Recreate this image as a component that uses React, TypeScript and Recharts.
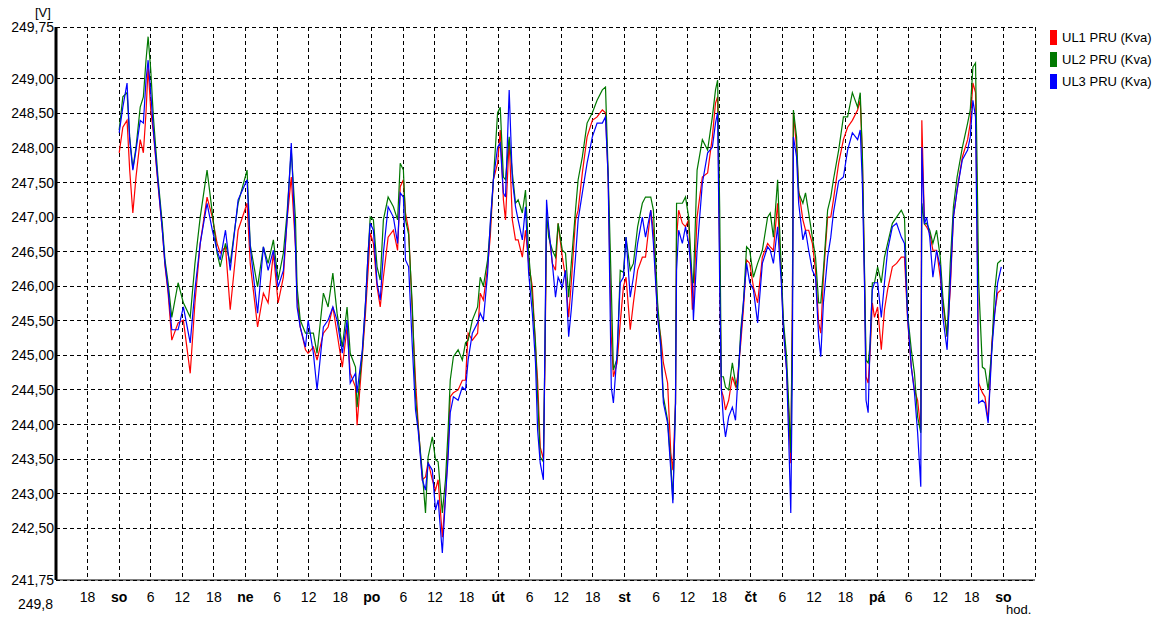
import { LineChart, Line, XAxis, YAxis, CartesianGrid } from "recharts";

// hours from Saturday 00:00
const hours = [
  0, 0.7, 1.5, 2, 2.6, 3.2, 4, 4.6, 5.1, 5.5, 6, 6.5, 7.4, 8.2, 8.7, 9.3, 10, 11.2, 12.2, 13.5,
  14.4, 15.4, 16.7, 17.7, 18.6, 19.2, 20.2, 21.1, 22.6, 24.3, 24.9, 26.3, 27.4, 28.3, 29.3, 30.2, 31.2, 31.9, 32.7, 33.5,
  33.8, 34.4, 35.4, 35.9, 36.9, 37.6, 38.8, 39.7, 40.6, 41.4, 42.4, 43.3, 43.9, 44.9, 45.2, 46.2, 46.8, 47.3, 47.7, 48.3,
  49, 49.6, 50.2, 51.1, 52.1, 52.9, 53.4, 54, 54.4, 55, 55.7, 56.3, 56.8, 57.6, 58.2, 58.7, 59.5, 60.1, 60.6, 61.4,
  62, 62.5, 62.9, 63.5, 64.4, 65.2, 65.8, 66.3, 67.1, 68.1, 68.6, 69.2, 70, 70.5, 71.1, 71.9, 72.4, 73, 73.4, 74.1,
  74.7, 75.3, 75.8, 76.6, 77.2, 77.8, 78.5, 79.1, 79.5, 80, 80.6, 80.9, 81.2, 81.6, 82.3, 82.9, 83.4, 84.2, 84.8, 85.4,
  85.9, 86.7, 87.2, 88, 88.9, 89.9, 90.8, 91.8, 92.4, 92.9, 93.5, 93.9, 94.6, 95.2, 95.8, 96.3, 97.1, 97.7, 98.5, 99.4,
  100, 101, 101.5, 102.3, 102.9, 103.4, 104.2, 104.8, 105.2, 105.7, 105.9, 106.3, 107, 107.6, 108.2, 108.9, 109.1, 109.8, 110.8, 111.8,
  112.7, 113.3, 113.7, 114.1, 114.4, 114.8, 115.2, 115.8, 116.5, 117.1, 117.5, 118.1, 118.6, 119.2, 119.8, 120.5, 121.3, 122.2, 123.2, 123.7,
  124.3, 125.1, 125.8, 126.2, 126.8, 127.2, 127.6, 127.9, 128.1, 128.7, 129.1, 129.9, 130.4, 131, 131.7, 132.3, 132.9, 133.3, 133.8, 134.6,
  135.2, 135.7, 136.7, 137.6, 138.4, 139.3, 140.3, 140.8, 141.2, 141.6, 141.9, 142.3, 142.7, 143.1, 143.5, 144.1, 144.8, 145.4, 146, 146.9,
  147.7, 148.6, 149.2, 149.8, 150.5, 151.1, 151.7, 152.3, 152.5, 153, 153.4, 154, 154.6, 155.3, 156, 156.5, 157.3, 157.9, 158.5, 159.2,
  160.2, 161.2, 161.7, 162.2, 162.7, 163, 163.3, 164, 164.5, 165.1, 165.8, 166.3, 166.9, 167.6,
];

const ul1 = [
  247.93, 248.3, 248.4, 247.68, 247.06, 247.58, 248.12, 247.93, 248.51, 249.17, 248.55, 248.22, 247.45, 246.81, 246.3, 245.9, 245.22, 245.47, 245.51, 244.74,
  245.76, 246.62, 247.29, 247.0, 246.62, 246.48, 246.57, 245.66, 246.81, 247.2, 246.33, 245.41, 245.9, 245.76, 246.48, 245.76, 246.13, 246.96, 247.58, 246.57,
  245.84, 245.41, 245.08, 245.03, 245.12, 244.93, 245.32, 245.41, 245.7, 245.32, 244.83, 245.41, 244.74, 244.54, 243.99, 244.98, 245.61, 246.23, 246.77, 246.62,
  245.99, 245.7, 246.13, 246.71, 246.81, 246.52, 247.44, 247.54, 247.06, 246.81, 245.61, 244.64, 244.02, 243.2, 243.24, 243.46, 243.2, 243.05, 243.2, 242.37,
  242.95, 243.67, 244.4, 244.46, 244.5, 244.64, 244.64, 245.32, 245.22, 245.32, 245.9, 245.8, 246.28, 246.71, 247.54, 247.78, 248.26, 247.25, 246.96, 248.12,
  246.96, 246.67, 246.67, 246.42, 246.81, 246.33, 245.99, 245.12, 244.64, 243.67, 243.5, 244.9, 246.96, 246.81, 246.33, 246.23, 246.91, 246.42, 246.13, 245.55,
  246.05, 246.96, 247.1, 247.64, 248.16, 248.4, 248.45, 248.55, 248.51, 247.58, 245.27, 244.69, 244.89, 245.47, 245.99, 246.13, 245.37, 245.76, 246.23, 246.42,
  246.42, 247.1, 246.81, 245.55, 245.27, 244.89, 244.6, 243.59, 243.34, 244.31, 246.7, 247.1, 246.91, 246.86, 246.96, 245.66, 245.76, 247.0, 247.58, 247.64,
  248.16, 248.65, 248.74, 246.4, 244.5, 244.4, 244.21, 244.35, 244.69, 244.55, 244.69, 245.18, 245.66, 246.38, 246.33, 245.99, 245.76, 246.42, 246.62, 246.57,
  246.52, 247.2, 246.13, 245.42, 244.79, 244.17, 243.44, 245.76, 248.51, 248.01, 247.39, 246.96, 246.81, 246.81, 246.62, 246.23, 245.47, 245.32, 246.13, 247.0,
  247.0, 247.25, 247.78, 248.12, 248.3, 248.4, 248.55, 248.69, 247.9, 246.15, 244.69, 244.6, 245.08, 245.76, 245.55, 245.7, 245.08, 245.66, 245.95, 246.28,
  246.33, 246.42, 246.42, 245.51, 244.83, 244.5, 244.35, 243.92, 248.4, 246.9, 246.86, 246.77, 246.52, 246.52, 246.13, 245.76, 245.27, 245.95, 247.0, 247.39,
  247.87, 248.12, 248.36, 248.94, 248.8, 247.0, 244.6, 244.46, 244.4, 244.06, 245.18, 245.6, 245.9, 245.95,
];

const ul2 = [
  248.26, 248.74, 248.8, 248.16, 247.7, 248.01, 248.59, 248.74, 249.27, 249.61, 249.13, 248.45, 247.55, 246.9, 246.38, 246.05, 245.55, 246.05, 245.76, 245.55,
  246.33, 247.0, 247.68, 247.06, 246.48, 246.28, 246.62, 246.33, 247.2, 247.68, 246.6, 245.99, 246.57, 246.33, 246.67, 246.09, 246.48, 247.06, 247.97, 246.96,
  245.99, 245.51, 245.32, 245.32, 245.32, 245.03, 245.9, 245.7, 246.19, 245.61, 245.12, 245.7, 245.03, 244.83, 244.25, 245.03, 245.76, 246.48, 247.0, 246.96,
  246.28, 246.09, 246.96, 247.29, 247.15, 246.96, 247.78, 247.68, 246.96, 246.75, 245.7, 244.4, 243.97, 243.3, 242.72, 243.53, 243.82, 243.49, 243.46, 242.72,
  243.2, 243.92, 244.64, 244.98, 245.08, 244.93, 245.18, 245.22, 245.51, 245.7, 246.13, 246.0, 246.38, 246.85, 247.54, 248.51, 248.59, 247.58, 247.54, 248.16,
  247.64, 247.2, 247.25, 247.06, 247.39, 246.48, 245.84, 245.18, 244.4, 243.53, 243.46, 245.1, 247.06, 246.71, 246.52, 246.42, 246.91, 246.52, 246.48, 245.84,
  246.33, 247.1, 247.54, 247.87, 248.36, 248.51, 248.69, 248.84, 248.88, 247.64, 245.99, 244.79, 244.95, 246.23, 246.2, 246.71, 246.23, 246.33, 246.86, 247.2,
  247.29, 247.29, 247.1, 245.76, 245.18, 244.4, 244.06, 243.44, 242.91, 244.31, 247.2, 247.2, 247.2, 247.29, 247.0, 246.05, 246.05, 247.68, 248.12, 247.97,
  248.45, 248.84, 248.98, 247.1, 244.69, 244.69, 244.54, 244.5, 244.89, 244.6, 244.5, 245.37, 245.76, 246.57, 246.52, 246.13, 246.33, 246.52, 247.0, 247.06,
  246.71, 247.54, 246.23, 245.51, 244.98, 244.31, 243.59, 245.5, 248.55, 248.16, 247.35, 247.2, 247.35, 247.06, 246.71, 246.42, 245.76, 245.76, 246.23, 247.1,
  247.29, 247.54, 247.97, 248.45, 248.45, 248.8, 248.59, 248.8, 247.9, 246.28, 244.93, 244.89, 245.18, 246.05, 246.05, 246.28, 246.05, 246.42, 246.62, 246.91,
  247.0, 247.1, 247.0, 245.6, 245.08, 244.74, 244.11, 243.88, 247.2, 246.9, 246.91, 246.81, 246.62, 246.81, 246.42, 245.84, 245.27, 246.33, 247.15, 247.58,
  248.01, 248.36, 248.55, 249.17, 249.23, 247.73, 246.05, 244.83, 244.8, 244.5, 245.08, 245.9, 246.33, 246.38,
];

const ul3 = [
  248.22, 248.59, 248.94, 248.12, 247.68, 247.97, 248.4, 248.36, 248.98, 249.27, 248.8, 248.26, 247.49, 246.81, 246.33, 245.95, 245.37, 245.37, 245.7, 245.18,
  245.95, 246.62, 247.2, 246.81, 246.52, 246.38, 246.81, 246.23, 247.25, 247.54, 246.57, 245.61, 246.57, 246.23, 246.52, 245.99, 246.23, 246.96, 248.07, 246.57,
  245.7, 245.41, 245.12, 245.51, 245.03, 244.5, 245.41, 245.51, 245.7, 245.51, 245.03, 245.51, 244.6, 244.74, 244.46, 245.08, 245.76, 246.48, 246.91, 246.81,
  246.05, 245.8, 246.48, 247.15, 247.0, 246.62, 247.35, 247.29, 246.38, 246.28, 245.12, 244.21, 243.92, 243.2, 243.05, 243.44, 243.34, 242.76, 242.91, 242.14,
  242.95, 243.53, 244.17, 244.4, 244.35, 244.54, 244.5, 244.93, 245.32, 245.47, 245.61, 245.51, 246.19, 246.91, 247.54, 248.01, 248.07, 247.35, 247.29, 248.84,
  247.54, 247.15, 246.96, 246.67, 247.15, 246.19, 245.61, 244.89, 243.92, 243.44, 243.2, 245.22, 247.25, 246.86, 246.33, 245.84, 246.13, 245.99, 246.23, 245.27,
  245.66, 246.42, 246.96, 247.35, 247.78, 248.16, 248.36, 248.36, 248.45, 247.58, 244.54, 244.31, 245.03, 246.05, 246.13, 246.71, 245.84, 246.13, 246.62, 247.0,
  246.71, 247.1, 246.62, 245.55, 245.12, 244.31, 244.02, 243.34, 242.86, 244.31, 246.23, 246.81, 246.62, 246.86, 246.62, 246.05, 245.51, 246.52, 247.49, 247.93,
  248.01, 248.36, 248.51, 245.99, 244.54, 244.06, 243.82, 244.11, 244.25, 244.06, 244.6, 245.27, 245.76, 246.33, 246.05, 245.95, 245.47, 246.33, 246.57, 246.52,
  246.33, 246.86, 246.05, 245.37, 244.79, 243.82, 242.72, 244.79, 248.16, 247.87, 247.2, 246.67, 246.81, 246.52, 246.23, 246.13, 245.27, 244.98, 245.76, 246.42,
  246.71, 247.06, 247.52, 247.58, 247.97, 248.22, 248.12, 248.26, 247.49, 246.05, 244.35, 244.17, 245.27, 245.95, 246.05, 246.05, 245.55, 246.05, 246.52, 246.86,
  246.91, 246.71, 246.62, 245.55, 244.83, 244.46, 243.88, 243.1, 248.01, 246.9, 247.0, 246.71, 246.13, 246.52, 246.28, 245.55, 245.08, 246.05, 247.0, 247.39,
  247.83, 247.97, 248.16, 248.69, 248.45, 246.52, 244.31, 244.35, 244.31, 244.02, 245.08, 245.55, 246.05, 246.28,
];

const xTicks = [-12, -6, 0, 6, 12, 18, 24, 30, 36, 42, 48, 54, 60, 66, 72, 78, 84, 90, 96, 102, 108, 114, 120, 126, 132, 138, 144, 150, 156, 162, 168, 174];
const dayNames = ["so", "ne", "po", "út", "st", "čt", "pá", "so"];
const yTicks = [241.75, 242.5, 243, 243.5, 244, 244.5, 245, 245.5, 246, 246.5, 247, 247.5, 248, 248.5, 249, 249.75];

const series = [
  { key: "ul1", name: "UL1 PRU (Kva)", color: "#ff0000" },
  { key: "ul2", name: "UL2 PRU (Kva)", color: "#007800" },
  { key: "ul3", name: "UL3 PRU (Kva)", color: "#0000ff" },
];

const rows = hours.map((h, i) => ({ h, ul1: ul1[i], ul2: ul2[i], ul3: ul3[i] }));

const font = "'Liberation Sans', Arial, sans-serif";

function XTick({ x, y, payload }: any) {
  const h = payload.value;
  if (h < -6 || h > 168) return null;
  const isDay = h % 24 === 0;
  const label = isDay ? dayNames[h / 24] : String(((h % 24) + 24) % 24);
  return (
    <text x={x} y={y + 20} textAnchor="middle" fontSize={14} fontFamily={font} fontWeight={isDay ? 700 : 400} fill="#000">
      {label}
    </text>
  );
}

function YTick({ x, y, payload }: any) {
  return (
    <text x={x} y={y} dy="0.36em" textAnchor="end" fontSize={14} fontFamily={font} fill="#000">
      {payload.value.toFixed(2).replace(".", ",")}
    </text>
  );
}

const txt = { position: "absolute" as const, fontFamily: font, color: "#000", whiteSpace: "nowrap" as const };

export default function App() {
  return (
    <div style={{ position: "absolute", left: 0, top: 0, width: 1162, height: 623, background: "#fff" }}>
      <LineChart width={1162} height={623} data={rows} margin={{ top: 27, right: 127, bottom: 0, left: 6 }}>
        <CartesianGrid stroke="#000" strokeDasharray="4 3" shapeRendering="crispEdges" />
        <XAxis
          dataKey="h"
          type="number"
          domain={[-12, 174]}
          ticks={xTicks}
          interval={0}
          height={43}
          tickSize={0}
          tick={<XTick />}
          axisLine={{ stroke: "#000", strokeWidth: 1 }}
          allowDataOverflow
        />
        <YAxis
          type="number"
          domain={[241.75, 249.75]}
          ticks={yTicks}
          interval={0}
          width={50}
          tickSize={0}
          tickMargin={2}
          tick={<YTick />}
          axisLine={{ stroke: "#000", strokeWidth: 3 }}
          allowDataOverflow
        />
        {series.map((s) => (
          <Line key={s.key} type="linear" dataKey={s.key} stroke={s.color} strokeWidth={1.2} dot={false} isAnimationActive={false} />
        ))}
      </LineChart>
      <div style={{ ...txt, left: 35, top: 5, fontSize: 13 }}>[V]</div>
      <div style={{ ...txt, left: 15, top: 596, width: 38, textAlign: "right", fontSize: 14 }}>249,8</div>
      <div style={{ ...txt, left: 1006, top: 602, fontSize: 13 }}>hod.</div>
      {series.map((s, i) => (
        <div key={s.key} style={{ ...txt, left: 1050, top: 30 + i * 22, fontSize: 13, display: "flex", alignItems: "center" }}>
          <span style={{ display: "inline-block", width: 7, height: 15, background: s.color, marginRight: 5 }} />
          <span>{s.name}</span>
        </div>
      ))}
    </div>
  );
}
